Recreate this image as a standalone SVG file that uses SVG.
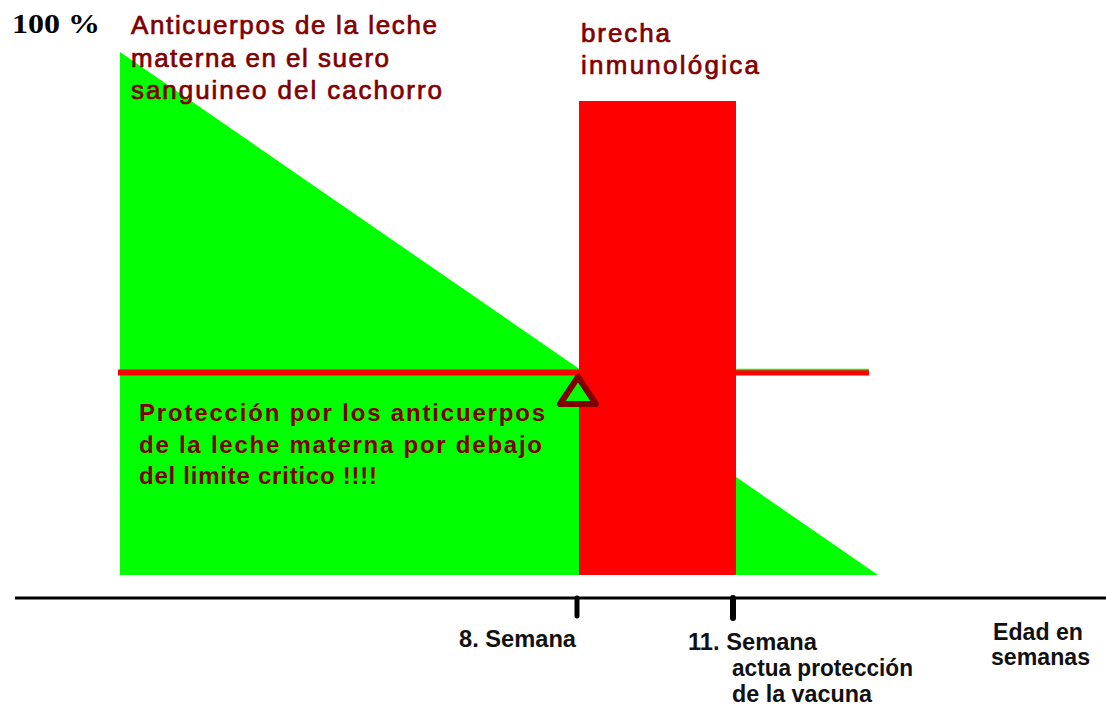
<svg xmlns="http://www.w3.org/2000/svg" width="1106" height="709" viewBox="0 0 1106 709">
<style>
.lbl{font-family:"Liberation Sans",Arial,sans-serif;fill:#800000;font-size:26px;stroke:#800000;stroke-width:0.7px}
.bold{font-weight:bold;font-size:24px;stroke:none}
.ax{font-family:"Liberation Sans",Arial,sans-serif;font-weight:bold;fill:#111;font-size:23px}
.pct{font-family:"Liberation Serif","Times New Roman",serif;font-weight:bold;fill:#000;font-size:28px}
</style>
<rect width="1106" height="709" fill="#fff"/>
<g id="maternal-antibodies">
<polygon points="120,52 878,575 120,575" fill="#00ff00"/>
</g>
<g id="immunity-gap">
<rect x="579" y="101" width="157" height="474" fill="#ff0000"/>
</g>
<g id="connectors">
<line x1="118" y1="372.5" x2="580" y2="372.5" stroke="#ff0000" stroke-width="6"/>
<line x1="736" y1="372.5" x2="869" y2="372.5" stroke="#ff0000" stroke-width="6"/>
<line x1="736" y1="369.5" x2="869" y2="369.5" stroke="#00ff00" stroke-width="1.5"/>
<line x1="15" y1="598" x2="1106" y2="598" stroke="#000" stroke-width="3"/>
<line x1="577" y1="598" x2="577" y2="616" stroke="#000" stroke-width="5" stroke-linecap="round"/>
<line x1="733" y1="598" x2="733" y2="618" stroke="#000" stroke-width="6" stroke-linecap="round"/>
</g>
<g id="warning">
<polygon points="578,377 560,404 596,404" fill="#00ff00" stroke="#800000" stroke-width="6" stroke-linejoin="round"/>
</g>
<g id="label-100">
<text class="pct" x="12" y="33" textLength="88" lengthAdjust="spacingAndGlyphs">100  %</text>
</g>
<g id="label-anticuerpos">
<text class="lbl" x="131" y="34" textLength="306" lengthAdjust="spacing">Anticuerpos de la leche</text>
<text class="lbl" x="131" y="67" textLength="258" lengthAdjust="spacing">materna en el suero</text>
<text class="lbl" x="131" y="99" textLength="311" lengthAdjust="spacing">sanguineo del cachorro</text>
</g>
<g id="label-brecha">
<text class="lbl" x="581" y="42" textLength="89" lengthAdjust="spacing">brecha</text>
<text class="lbl" x="581" y="74" textLength="178" lengthAdjust="spacing">inmunológica</text>
</g>
<g id="label-proteccion">
<text class="lbl bold" x="139" y="421" textLength="406" lengthAdjust="spacing">Protección por los anticuerpos</text>
<text class="lbl bold" x="139" y="453" textLength="403" lengthAdjust="spacing">de la leche materna por debajo</text>
<text class="lbl bold" x="139" y="484" textLength="238" lengthAdjust="spacing">del limite critico !!!!</text>
</g>
<g id="label-week8">
<text class="ax" x="459" y="647" textLength="117" lengthAdjust="spacingAndGlyphs">8. Semana</text>
</g>
<g id="label-week11">
<text class="ax" x="688" y="650" textLength="129" lengthAdjust="spacingAndGlyphs">11. Semana</text>
<text class="ax" x="732" y="676" textLength="181" lengthAdjust="spacingAndGlyphs">actua protección</text>
<text class="ax" x="732" y="702" textLength="140" lengthAdjust="spacingAndGlyphs">de la vacuna</text>
</g>
<g id="label-edad">
<text class="ax" x="993" y="640" textLength="90" lengthAdjust="spacingAndGlyphs">Edad en</text>
<text class="ax" x="991" y="665" textLength="99" lengthAdjust="spacingAndGlyphs">semanas</text>
</g>
</svg>
